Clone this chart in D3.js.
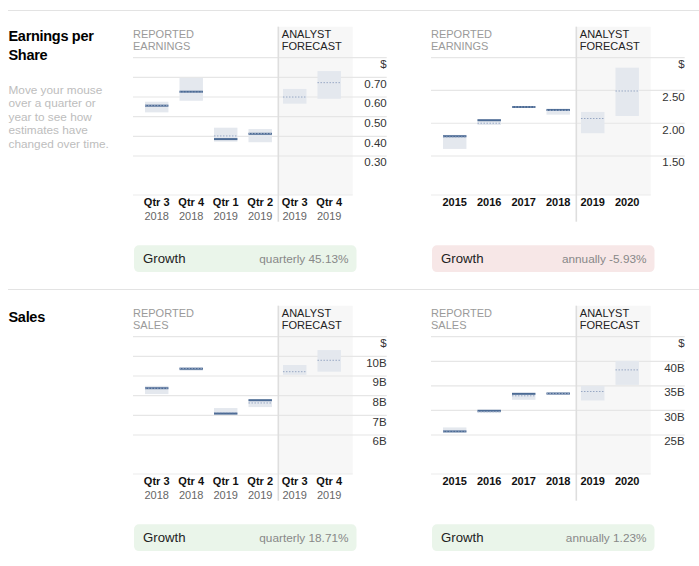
<!DOCTYPE html>
<html><head><meta charset="utf-8">
<script src="https://cdn.jsdelivr.net/npm/d3@7"></script>
<style>
body{margin:0;background:#fff;}
svg{display:block;font-family:"Liberation Sans",Arial,sans-serif;}
</style></head>
<body><svg id="c" width="699" height="566"></svg>
<script>
// ---- data ----
const quarterLabels = ["Qtr 3","Qtr 4","Qtr 1","Qtr 2","Qtr 3","Qtr 4"];
const quarterYears  = ["2018","2018","2019","2019","2019","2019"];
const yearLabels    = ["2015","2016","2017","2018","2019","2020"];

const epsQActual   = [0.556, 0.627, 0.386, 0.413, null, null];
const epsQEstimate = [0.556, 0.625, 0.402, 0.414, 0.600, 0.673];
const epsQHigh     = [0.576, 0.698, 0.444, 0.437, 0.641, 0.732];
const epsQLow      = [0.522, 0.581, 0.373, 0.370, 0.566, 0.591];
const epsQTicks    = [0.30, 0.40, 0.50, 0.60, 0.70, 0.80];
const epsQTickLabels = ["0.30","0.40","0.50","0.60","0.70","$"];

const epsAActual   = [1.802, 2.046, 2.248, 2.203, null, null];
const epsAEstimate = [1.790, 2.000, 2.248, 2.197, 2.072, 2.492];
const epsAHigh     = [1.822, 2.061, 2.258, 2.218, 2.172, 2.848];
const epsALow      = [1.608, 1.974, 2.238, 2.131, 1.848, 2.111];
const epsATicks    = [1.5, 2.0, 2.5, 3.0];
const epsATickLabels = ["1.50","2.00","2.50","$"];

const salesQActual   = [8.38, 9.37, 7.09, 7.77, null, null];
const salesQEstimate = [8.38, 9.39, 7.14, 7.63, 9.22, 9.80];
const salesQHigh     = [8.50, 9.45, 7.37, 7.82, 9.56, 10.32];
const salesQLow      = [8.08, 9.27, 7.03, 7.42, 9.06, 9.22];
const salesQTicks    = [6, 7, 8, 9, 10, 11];
const salesQTickLabels = ["6B","7B","8B","9B","10B","$"];

const salesAActual   = [25.73, 29.93, 33.38, 33.44, null, null];
const salesAEstimate = [25.80, 29.73, 32.97, 33.44, 33.85, 38.25];
const salesAHigh     = [26.54, 30.07, 33.52, 33.64, 35.00, 40.07];
const salesALow      = [25.53, 29.46, 32.16, 33.17, 32.02, 35.20];
const salesATicks    = [25, 30, 35, 40, 45];
const salesATickLabels = ["25B","30B","35B","40B","$"];

const growthTexts = ["quarterly 45.13%","annually -5.93%","quarterly 18.71%","annually 1.23%"];
const growthPositive = [true, false, true, true];

// ---- drawing ----
const svg = d3.select("#c");
const C = {grid:"#e6e6e6", shade:"#f7f7f7", box:"#e4e8ee", solid:"#4b6a94", dot:"#98a8c4"};

function sep(y){
  svg.append("line").attr("x1",8).attr("x2",699).attr("y1",y).attr("y2",y)
    .attr("stroke","#e3e3e3").attr("stroke-width",1.2);
}
sep(10.5); sep(289.5);

svg.append("text").attr("x",8.5).attr("y",41.3).attr("font-size",14.5).attr("font-weight","bold")
  .attr("letter-spacing",-0.3).attr("fill","#000").text("Earnings per");
svg.append("text").attr("x",8.5).attr("y",60.3).attr("font-size",14.5).attr("font-weight","bold")
  .attr("letter-spacing",-0.3).attr("fill","#000").text("Share");
svg.append("text").attr("x",8.5).attr("y",321.5).attr("font-size",14.5).attr("font-weight","bold")
  .attr("letter-spacing",-0.3).attr("fill","#000").text("Sales");
["Move your mouse","over a quarter or","year to see how","estimates have","changed over time."]
  .forEach((t,i)=>svg.append("text").attr("x",8.5).attr("y",93.5+i*13.6).attr("font-size",11.8)
    .attr("fill","#bdbdbd").text(t));

function panel(x0, y0, kind, labels, years, actual, est, hi, lo, ticks, tickLabels, domain, growth, pos){
  const g = svg.append("g").attr("transform",`translate(${x0},${y0})`);
  const divX = 145.3, shadeR = 219.7;
  // shade + divider
  g.append("rect").attr("x",divX).attr("y",26.7).attr("width",shadeR-divX).attr("height",195-26.7).attr("fill",C.shade);
  // titles
  g.append("text").attr("x",0).attr("y",37.5).attr("font-size",11).attr("fill","#9a9a9a").text("REPORTED");
  g.append("text").attr("x",0).attr("y",49.5).attr("font-size",11).attr("fill","#9a9a9a").text(kind);
  g.append("text").attr("x",divX+3.5).attr("y",37.5).attr("font-size",11).attr("fill","#222").text("ANALYST");
  g.append("text").attr("x",divX+3.5).attr("y",49.5).attr("font-size",11).attr("fill","#222").text("FORECAST");

  const y = d3.scaleLinear().domain(domain).range([156,57.7]);
  const x = d3.scaleBand().domain(d3.range(labels.length)).range([6.45,213.45]).paddingInner(0.32).paddingOuter(0.16);

  // gridlines
  g.selectAll(".gl").data(ticks).enter().append("line")
    .attr("x1",0).attr("x2",253.7).attr("y1",d=>y(d)).attr("y2",d=>y(d))
    .attr("stroke",C.grid).attr("stroke-width",1.2);
  g.append("line").attr("x1",0).attr("x2",shadeR).attr("y1",195).attr("y2",195).attr("stroke","#ececec").attr("stroke-width",1.2);
  g.append("line").attr("x1",divX).attr("x2",divX).attr("y1",26.7).attr("y2",221.7).attr("stroke","#dedede").attr("stroke-width",1.6);

  // tick labels
  g.selectAll(".tl").data(ticks).enter().append("text")
    .attr("x",253.7).attr("y",d=>y(d)+10.3).attr("text-anchor","end").attr("font-size",11.5)
    .attr("fill","#333").text((d,i)=>tickLabels[i]);

  const idx = d3.range(labels.length);
  // range boxes
  g.selectAll(".bx").data(idx).enter().append("rect")
    .attr("x",i=>x(i)).attr("width",x.bandwidth())
    .attr("y",i=>y(hi[i])).attr("height",i=>Math.max(1.5,y(lo[i])-y(hi[i])))
    .attr("fill",C.box);
  // actual solid
  g.selectAll(".ac").data(idx.filter(i=>actual[i]!=null)).enter().append("line")
    .attr("x1",i=>x(i)).attr("x2",i=>x(i)+x.bandwidth())
    .attr("y1",i=>y(actual[i])).attr("y2",i=>y(actual[i]))
    .attr("stroke",C.solid).attr("stroke-width",2);
  // estimate dotted
  g.selectAll(".es").data(idx).enter().append("line")
    .attr("x1",i=>x(i)).attr("x2",i=>x(i)+x.bandwidth())
    .attr("y1",i=>y(est[i])).attr("y2",i=>y(est[i]))
    .attr("stroke",C.dot).attr("stroke-width",1).attr("stroke-dasharray","1.5,1.5");

  // x labels
  g.selectAll(".xl").data(idx).enter().append("text")
    .attr("x",i=>x(i)+x.bandwidth()/2).attr("y",205.5).attr("text-anchor","middle")
    .attr("font-size",11).attr("font-weight","bold").attr("fill","#111").text(i=>labels[i]);
  if(years){
    g.selectAll(".yl").data(idx).enter().append("text")
      .attr("x",i=>x(i)+x.bandwidth()/2).attr("y",219.5).attr("text-anchor","middle")
      .attr("font-size",11).attr("fill","#666").text(i=>years[i]);
  }

  // growth box
  g.append("rect").attr("x",1).attr("y",245.3).attr("width",222.5).attr("height",26.8).attr("rx",5)
    .attr("fill",pos?"#eaf5ea":"#f7e7e7");
  g.append("text").attr("x",10).attr("y",263.3).attr("font-size",13.2).attr("fill","#222").text("Growth");
  g.append("text").attr("x",215.5).attr("y",263).attr("text-anchor","end").attr("font-size",11.8)
    .attr("fill","#888").text(growth);
}

panel(133, 0, "EARNINGS", quarterLabels, quarterYears, epsQActual, epsQEstimate, epsQHigh, epsQLow,
  epsQTicks, epsQTickLabels, [0.30,0.80], growthTexts[0], growthPositive[0]);
panel(431, 0, "EARNINGS", yearLabels, null, epsAActual, epsAEstimate, epsAHigh, epsALow,
  epsATicks, epsATickLabels, [1.5,3.0], growthTexts[1], growthPositive[1]);
panel(133, 279, "SALES", quarterLabels, quarterYears, salesQActual, salesQEstimate, salesQHigh, salesQLow,
  salesQTicks, salesQTickLabels, [6,11], growthTexts[2], growthPositive[2]);
panel(431, 279, "SALES", yearLabels, null, salesAActual, salesAEstimate, salesAHigh, salesALow,
  salesATicks, salesATickLabels, [25,45], growthTexts[3], growthPositive[3]);
</script></body></html>
